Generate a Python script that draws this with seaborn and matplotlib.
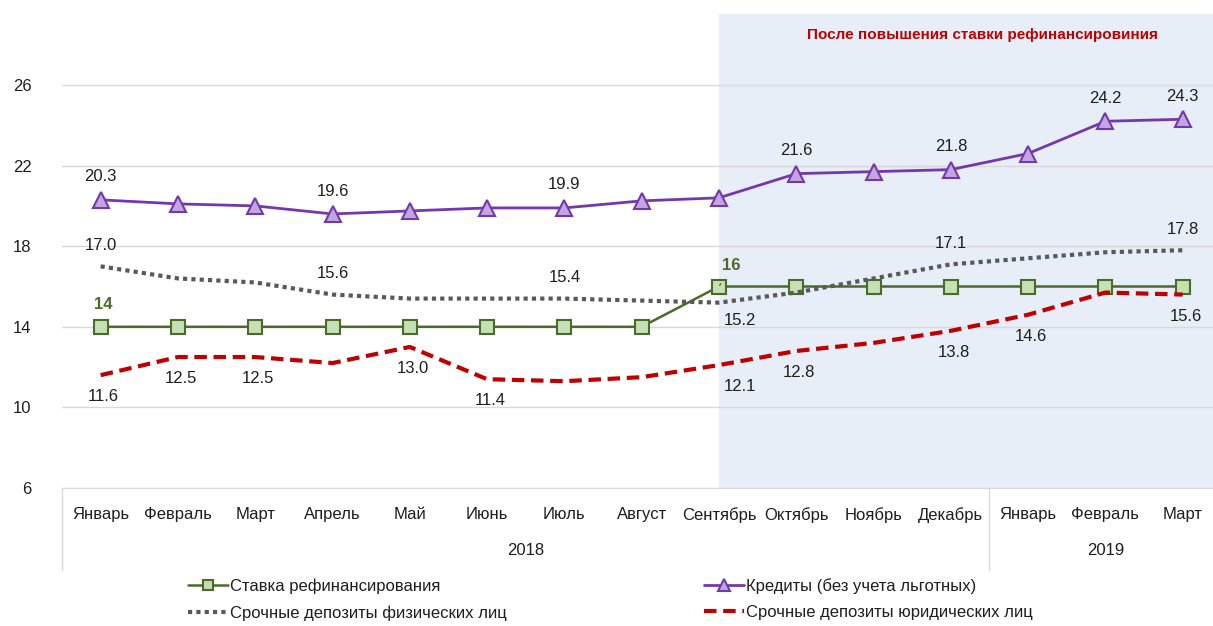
import pandas as pd
import seaborn as sns
import matplotlib.pyplot as plt
import matplotlib.transforms as mtransforms

# Данные
months = ['Январь', 'Февраль', 'Март', 'Апрель', 'Май', 'Июнь', 'Июль', 'Август',
          'Сентябрь', 'Октябрь', 'Ноябрь', 'Декабрь', 'Январь', 'Февраль', 'Март']
years = ['2018', '2019']
months_per_year = [12, 3]

stavka = [14, 14, 14, 14, 14, 14, 14, 14, 16, 16, 16, 16, 16, 16, 16]
kredity = [20.3, 20.1, 20.0, 19.6, 19.75, 19.9, 19.9, 20.25, 20.4, 21.6, 21.7, 21.8, 22.6, 24.2, 24.3]
depo_fiz = [17.0, 16.4, 16.2, 15.6, 15.4, 15.4, 15.4, 15.3, 15.2, 15.7, 16.4, 17.1, 17.4, 17.7, 17.8]
depo_yur = [11.6, 12.5, 12.5, 12.2, 13.0, 11.4, 11.3, 11.5, 12.1, 12.8, 13.2, 13.8, 14.6, 15.7, 15.6]

# Какие точки подписаны
lbl_kredity = [0, 3, 6, 9, 11, 13, 14]
lbl_fiz_up = [0, 3, 6, 11, 14]
lbl_fiz_down = [8]
lbl_yur = [0, 1, 2, 4, 5, 8, 9, 11, 12, 14]
lbl_stavka = [0, 8]
start_hike = 8  # сентябрь

df = pd.DataFrame({'x': range(len(months)), 'stavka': stavka, 'kredity': kredity,
                   'fiz': depo_fiz, 'yur': depo_yur})

sns.set_style('white')
plt.rcParams['font.family'] = ['Liberation Sans', 'DejaVu Sans']

fig = plt.figure(figsize=(12.13, 6.26), dpi=100)
ax = fig.add_axes([62 / 1213, 1 - 488 / 626, 1151 / 1213, 474 / 626])

GREEN = '#4A6B2A'
PURPLE = '#7438AE'
GREY = '#595959'
RED = '#C00000'
TXT = '#1E1E1E'

ax.axvspan(start_hike, len(months), color='#E7EEF7', zorder=0, lw=0)

sns.lineplot(data=df, x='x', y='stavka', ax=ax, color=GREEN, linewidth=1.8,
             marker='s', markersize=10, markerfacecolor='#C5E0B4',
             markeredgecolor=GREEN, markeredgewidth=1.5,
             label='Ставка рефинансирования', zorder=3)
sns.lineplot(data=df, x='x', y='kredity', ax=ax, color=PURPLE, linewidth=2,
             marker='^', markersize=11, markerfacecolor='#C3A6E0',
             markeredgecolor=PURPLE, markeredgewidth=1.5,
             label='Кредиты (без учета льготных)', zorder=4)
sns.lineplot(data=df, x='x', y='fiz', ax=ax, color=GREY, linewidth=3,
             linestyle=(0, (1, 1)), label='Срочные депозиты физических лиц', zorder=3)
sns.lineplot(data=df, x='x', y='yur', ax=ax, color=RED, linewidth=3,
             linestyle=(0, (3, 1.6)), label='Срочные депозиты юридических лиц', zorder=3)

if ax.get_legend() is not None:
    ax.get_legend().remove()

# Подписи значений
lab_kw = dict(textcoords='offset points', ha='center', va='center', fontsize=12, color=TXT)
for i in lbl_kredity:
    ax.annotate(f'{kredity[i]:.1f}', (i, kredity[i]), xytext=(0, 16.5), **lab_kw)
for i in lbl_fiz_up:
    ax.annotate(f'{depo_fiz[i]:.1f}', (i, depo_fiz[i]), xytext=(0, 15), **lab_kw)
for i in lbl_fiz_down:
    ax.annotate(f'{depo_fiz[i]:.1f}', (i, depo_fiz[i]), xytext=(15, -13), **lab_kw)
for i in lbl_yur:
    dx = 15 if i == start_hike else 2
    ax.annotate(f'{depo_yur[i]:.1f}', (i, depo_yur[i]), xytext=(dx, -15.5), **lab_kw)

ax.annotate(f'{stavka[lbl_stavka[0]]}', (lbl_stavka[0], stavka[lbl_stavka[0]]), xytext=(2, 16),
            textcoords='offset points', ha='center', va='center', fontsize=12,
            fontweight='bold', color=GREEN)
ax.annotate(f'{stavka[lbl_stavka[1]]}', (lbl_stavka[1], stavka[lbl_stavka[1]]), xytext=(9, 15),
            textcoords='offset points', ha='center', va='center', fontsize=12,
            fontweight='bold', color=GREEN,
            arrowprops=dict(arrowstyle='-', color=GREEN, lw=0.9, shrinkA=6, shrinkB=1))

ax.text(0.800, 0.956, 'После повышения ставки рефинансировиния', transform=ax.transAxes,
        ha='center', va='center', fontsize=11, fontweight='bold', color=RED)

# Оси
ax.set_xlim(-0.5, -0.5 + 1151 / 77.29)
ax.set_ylim(6, 6 + 474 / 20.15)
ax.set_yticks([6, 10, 14, 18, 22, 26])
ax.set_xticks(range(len(months)))
ax.set_xticklabels(months)
ax.set_xlabel('')
ax.set_ylabel('')
ax.tick_params(axis='y', length=0, pad=22, labelsize=12, labelcolor=TXT)
ax.tick_params(axis='x', length=0, pad=14, labelsize=12, labelcolor=TXT)
ax.grid(axis='y', color='#D9D9D9', linewidth=1)
ax.set_axisbelow(True)
for s in ['top', 'right', 'left']:
    ax.spines[s].set_visible(False)
ax.spines['bottom'].set_color('#D9D9D9')

# Годы и разделители под осью
trans = mtransforms.blended_transform_factory(ax.transData, ax.transAxes)
start = 0
for yr, n in zip(years, months_per_year):
    ax.text(start + (n - 1) / 2, -0.131, yr, transform=trans, ha='center', va='center',
            fontsize=12, color=TXT)
    ax.plot([start - 0.5, start - 0.5], [0, -0.173], transform=trans, color='#D9D9D9',
            lw=1, clip_on=False)
    start += n

# Легенда
handles, labels = ax.get_legend_handles_labels()
order = [0, 2, 1, 3]
leg = fig.legend([handles[k] for k in order], [labels[k] for k in order], ncol=2,
                 loc='upper left', bbox_to_anchor=(188 / 1213, 1 - 578 / 626), frameon=False,
                 fontsize=12, handlelength=2.4, handletextpad=0.15, columnspacing=11.8,
                 labelspacing=0.68, borderaxespad=0, borderpad=0, markerscale=0.75)
for t in leg.get_texts():
    t.set_color(TXT)

fig.savefig('out.png', dpi=100)
